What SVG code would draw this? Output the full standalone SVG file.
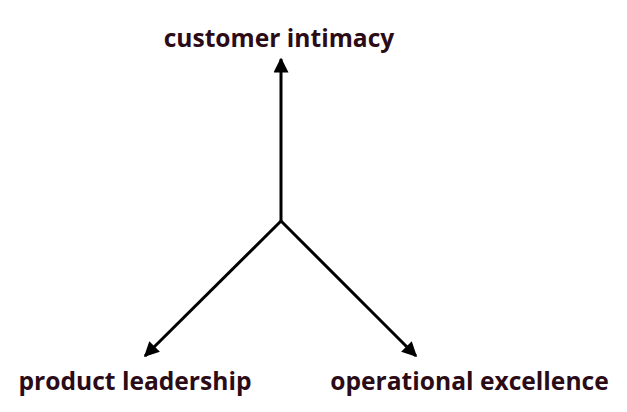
<svg xmlns="http://www.w3.org/2000/svg" width="627" height="412" viewBox="0 0 627 412">
<style>
.lbl{font-family:"Open Sans","Noto Sans","DejaVu Sans",sans-serif;font-weight:bold;font-size:24.6px;fill:#2b0b16;text-anchor:middle}
.conn{stroke:#000;stroke-width:3;fill:none}
</style>
<defs>
<marker id="ah" viewBox="0 0 10 10" refX="9" refY="5" markerWidth="5" markerHeight="5" orient="auto" markerUnits="strokeWidth">
<path d="M0,0 L10,5 L0,10 z" fill="#000"/>
</marker>
</defs>
<rect width="627" height="412" fill="#fff"/>
<g id="connectors">
<line class="conn" x1="281" y1="221" x2="281" y2="59" marker-end="url(#ah)"/>
<line class="conn" x1="281" y1="221" x2="145" y2="356" marker-end="url(#ah)"/>
<line class="conn" x1="281" y1="221" x2="416" y2="356" marker-end="url(#ah)"/>
</g>
<g id="customer-intimacy"><text class="lbl" x="279" y="47">customer intimacy</text></g>
<g id="product-leadership"><text class="lbl" x="135" y="390">product leadership</text></g>
<g id="operational-excellence"><text class="lbl" x="469.5" y="390">operational excellence</text></g>
</svg>
